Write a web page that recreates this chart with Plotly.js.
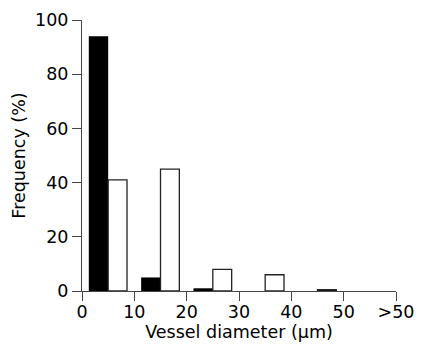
<!DOCTYPE html>
<html>
<head>
<meta charset="utf-8">
<script src="https://cdn.plot.ly/plotly-3.0.1.min.js"></script>
<style>html,body{margin:0;padding:0;background:#fff;}#chart{width:427px;height:353px;}</style>
</head>
<body>
<div id="chart"></div>
<script>
// Bin centres (µm)
var binCenters = [5, 15, 25, 35, 45];
// Black series (%)
var blackValues = [94, 5, 1, 0, 0];
// White series (%)
var whiteValues = [41, 45, 8, 6, 0.5];
// Axis ticks
var xTickVals = [0, 10, 20, 30, 40, 50, 60];
var xTickText = ["0", "10", "20", "30", "40", "50", ">50"];
var yTickVals = [0, 20, 40, 60, 80, 100];

var FONT = 'Tahoma, "DejaVu Sans", sans-serif';
var FS = 17.5;

var traces = [
  {
    type: 'bar', x: binCenters, y: blackValues,
    width: 3.7, offset: -3.7,
    marker: {color: '#000', line: {width: 0}},
    hoverinfo: 'x+y'
  },
  {
    type: 'bar', x: binCenters, y: whiteValues,
    width: 3.6, offset: 0,
    marker: {color: '#fff', line: {color: '#222', width: 1.3}},
    hoverinfo: 'x+y'
  }
];

var layout = {
  width: 427, height: 353,
  margin: {l: 82, r: 31, t: 20, b: 62},
  paper_bgcolor: '#fff', plot_bgcolor: '#fff',
  showlegend: false,
  barmode: 'overlay',
  font: {family: FONT, size: FS, color: '#000'},
  xaxis: {
    range: [0, 60],
    tickvals: xTickVals, ticktext: xTickText,
    showgrid: false, zeroline: false,
    showline: true, linecolor: '#444', linewidth: 1,
    ticks: 'outside', ticklen: 9, tickcolor: '#444', tickwidth: 1,
    ticklabelstandoff: -4,
    tickfont: {family: FONT, size: FS, color: '#000'},
    title: {text: 'Vessel diameter (μm)', font: {family: FONT, size: FS, color: '#000'}, standoff: 0}
  },
  yaxis: {
    range: [0, 100],
    tickvals: yTickVals,
    showgrid: false, zeroline: false,
    showline: true, linecolor: '#444', linewidth: 1,
    ticks: 'outside', ticklen: 9, tickcolor: '#444', tickwidth: 1,
    tickfont: {family: FONT, size: FS, color: '#000'},
    title: {text: 'Frequency (%)', font: {family: FONT, size: FS, color: '#000'}, standoff: 4}
  }
};

Plotly.newPlot('chart', traces, layout, {displayModeBar: false, staticPlot: true});
</script>
</body>
</html>
